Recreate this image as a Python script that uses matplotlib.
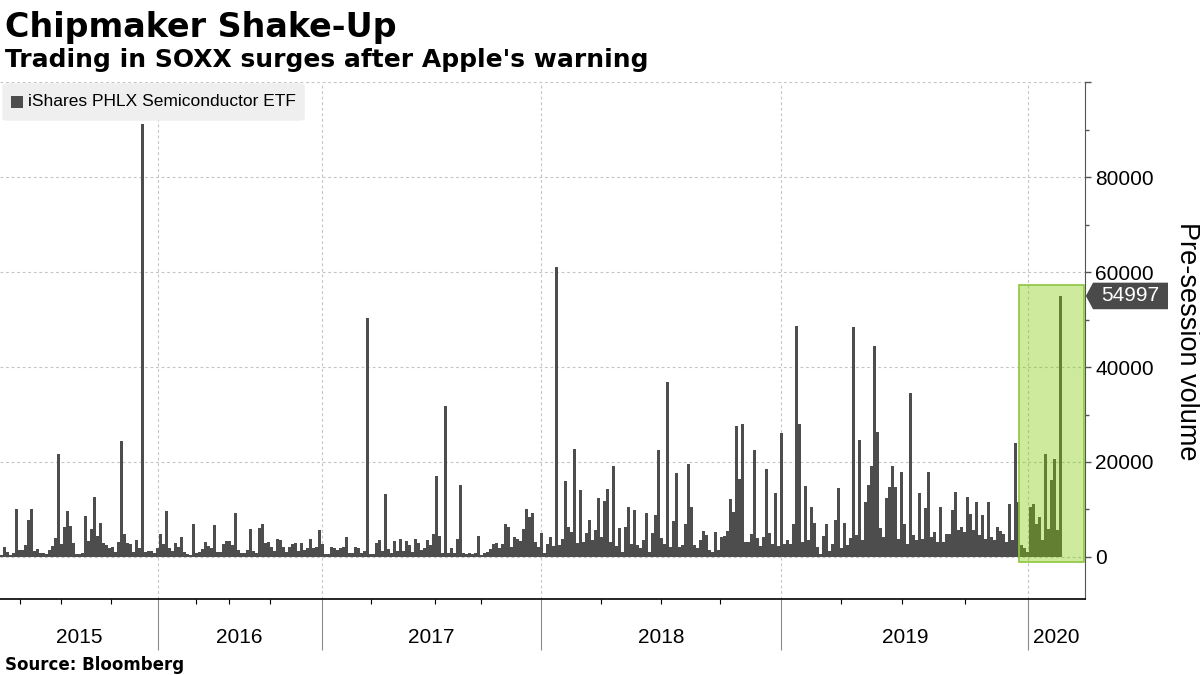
import numpy as np
import matplotlib.pyplot as plt
from matplotlib.patches import Rectangle, FancyBboxPatch, Polygon
from matplotlib.transforms import blended_transform_factory

# Pre-session volume of SOXX, in thousands of shares.
# One bar for every ~3 sessions, from early 2015 to Feb 2020.
volume_k = [
    0.3, 2.1, 1.0, 0.4, 0.7, 10.0, 1.4, 1.5, 2.5, 7.7,
    10.0, 1.2, 1.6, 0.9, 0.8, 0.6, 1.5, 2.2, 3.9, 21.6,
    2.8, 6.3, 9.6, 6.5, 3.0, 0.6, 0.5, 0.8, 8.6, 3.4,
    5.8, 12.6, 4.4, 7.2, 3.0, 2.4, 1.8, 2.1, 1.1, 3.2,
    24.4, 4.9, 2.9, 2.6, 1.0, 3.5, 1.8, 91.2, 1.0, 1.2,
    1.3, 0.9, 1.8, 4.8, 2.8, 9.6, 1.8, 1.2, 3.0, 2.1,
    # 2016
    4.2, 1.0, 0.5, 0.4, 6.9, 0.7, 1.1, 1.6, 3.2, 2.3,
    1.8, 6.7, 1.1, 1.0, 2.8, 3.3, 3.3, 2.5, 9.3, 1.4,
    0.8, 0.7, 1.4, 5.8, 1.3, 0.7, 6.0, 7.0, 3.0, 3.2,
    2.0, 1.2, 3.7, 3.6, 2.0, 1.0, 2.1, 2.6, 3.0, 1.2,
    3.0, 1.4, 1.8, 3.7, 1.8, 2.0, 5.6, 2.8, 0.5, 0.6,
    2.0, 1.9, 1.4, 1.8, 2.1, 4.1, 0.8, 0.7, 2.1, 1.8,
    # 2017
    0.9, 1.2, 50.3, 0.5, 0.5, 3.0, 3.5, 1.2, 13.2, 1.7,
    0.8, 3.3, 1.2, 3.7, 1.2, 3.3, 2.4, 1.0, 3.7, 3.0,
    1.4, 1.8, 3.5, 2.5, 4.7, 17.0, 4.4, 0.7, 31.8, 0.7,
    1.8, 0.7, 3.7, 15.1, 0.7, 0.5, 0.7, 0.6, 0.9, 4.4,
    0.4, 0.7, 1.0, 1.6, 2.7, 3.0, 1.8, 2.6, 6.9, 6.3,
    2.1, 4.1, 3.8, 3.4, 5.8, 10.0, 8.4, 9.3, 3.2, 2.1,
    # 2018
    5.0, 0.8, 2.8, 4.2, 2.3, 61.1, 2.5, 3.7, 16.0, 6.3,
    5.2, 22.7, 3.0, 14.0, 3.2, 5.1, 7.7, 3.5, 5.6, 12.4,
    4.2, 11.7, 14.3, 3.2, 19.1, 2.3, 6.0, 1.0, 6.3, 10.5,
    2.8, 9.8, 2.5, 1.8, 3.5, 9.3, 1.0, 5.1, 8.8, 22.5,
    3.9, 2.8, 36.8, 2.1, 7.6, 17.6, 2.1, 2.4, 7.0, 19.5,
    10.5, 2.5, 1.8, 3.5, 5.5, 4.6, 1.4, 1.1, 5.3, 1.4,
    4.2, 4.4, 5.4, 12.2, 9.5, 27.6, 16.5, 28.1, 3.2, 3.2,
    4.7, 22.5, 4.0, 2.2, 4.2, 18.6, 5.0, 2.7, 13.4, 2.3,
    # 2019
    26.0, 2.8, 3.5, 2.8, 7.0, 48.6, 28.1, 3.2, 14.9, 3.5,
    10.5, 7.2, 2.1, 0.5, 4.4, 7.0, 1.2, 2.8, 7.7, 14.4,
    1.8, 7.2, 2.4, 4.0, 48.4, 4.5, 24.7, 3.5, 11.6, 15.1,
    19.1, 44.4, 26.4, 6.0, 4.2, 12.3, 14.8, 19.1, 14.8, 3.8,
    17.8, 7.0, 2.8, 34.6, 4.6, 3.6, 13.4, 3.8, 10.2, 17.9,
    4.2, 5.3, 3.2, 10.5, 3.2, 4.9, 4.9, 9.8, 13.6, 5.6,
    6.3, 5.3, 12.6, 9.1, 5.6, 11.6, 4.6, 8.8, 3.8, 11.6,
    4.2, 3.5, 6.3, 5.5, 4.9, 3.2, 11.2, 3.5, 23.9, 11.6,
    # 2020
    2.5, 1.8, 1.0, 10.5, 11.1, 7.0, 8.4, 3.5, 21.6, 5.8,
    16.2, 20.7, 5.6, 54.997,
]
last_value = 54997

# Axis layout (in bar index units)
year_labels = ['2015', '2016', '2017', '2018', '2019', '2020']
year_starts = [52.6, 107.2, 180.5, 260.5, 342.8]
quarter_ticks = [6.6, 20.2, 37.1, 65.4, 76.3, 89.9, 123.7, 144.9, 160.5,
                 200.3, 220.4, 240.1, 280.5, 300.8, 321.8]
x_end = 361.67
highlight_start, highlight_end = 339.7, 361.4  # Apple warning window
highlight_top = 57400

bar_color = '#4d4d4d'
grid_kw = dict(color='#c4c4c4', linestyle=(0, (2.5, 2.5)), linewidth=0.8)
font = 'Liberation Sans'

volume = np.array(volume_k) * 1000
x = np.arange(len(volume)) + 0.5

fig = plt.figure(figsize=(12, 6.75), dpi=100)
ax = fig.add_axes([0, 0.11259, 0.90417, 0.76519])

ax.bar(x, volume, width=0.85, color=bar_color, linewidth=0, zorder=2)

ax.set_xlim(0, x_end)
ax.set_ylim(-8900, 100000)

# x axis: year separators and quarter ticks
ax.set_xticks(year_starts)
ax.set_xticks(quarter_ticks, minor=True)
ax.tick_params(axis='x', which='major', length=36.7, width=0.8, color='#8c8c8c',
               labelbottom=False)
ax.tick_params(axis='x', which='minor', length=3.8, width=0.8, color='black')
ax.xaxis.grid(True, which='major', **grid_kw)

bounds = [0] + year_starts + [x_end]
tr = blended_transform_factory(ax.transData, ax.transAxes)
for i, lab in enumerate(year_labels):
    ax.text((bounds[i] + bounds[i + 1]) / 2, -0.0755, lab, transform=tr,
            ha='center', va='center', fontsize=15, family=font)

# y axis on the right
ax.yaxis.tick_right()
yt = [0, 20000, 40000, 60000, 80000, 100000]
ax.set_yticks(yt)
ax.set_yticklabels([str(v) for v in yt[:-1]] + [''], family=font)
ax.set_yticks(np.arange(10000, 100000, 20000), minor=True)
ax.tick_params(axis='y', which='major', length=4.3, width=1, color='#555555',
               pad=3, labelsize=15)
ax.tick_params(axis='y', which='minor', length=3, width=1, color='#555555')
ax.yaxis.grid(True, which='major', **grid_kw)
ax.set_axisbelow(True)

ax.spines['left'].set_visible(False)
ax.spines['top'].set_visible(False)
ax.spines['right'].set_color('#555555')
ax.spines['bottom'].set_color('black')
ax.spines['bottom'].set_linewidth(1.2)

# highlight box
ax.add_patch(Rectangle((highlight_start, -1050), highlight_end - highlight_start,
                       highlight_top + 1050, facecolor=(0.51, 0.80, 0.04, 0.4),
                       edgecolor='#8dc63f', linewidth=1.2, zorder=3))

# last value tag
ty = blended_transform_factory(ax.transAxes, ax.transData)
h = 2800
ax.add_patch(Polygon([(1.0008, last_value), (1.0074, last_value + h), (1.0765, last_value + h),
                      (1.0765, last_value - h), (1.0074, last_value - h)],
                     closed=True, transform=ty, facecolor='#4a4a4a', edgecolor='none',
                     clip_on=False, zorder=5))
ax.text(1.042, last_value, str(last_value), transform=ty, ha='center', va='center',
        color='white', fontsize=15, family=font, zorder=6)

fig.text(1187 / 1200, 1 - 341 / 675, 'Pre-session volume', rotation=270,
         ha='center', va='center', fontsize=19.5, family=font)

# legend
ax.add_patch(FancyBboxPatch((0.002, 1 - 120.7 / 675), 0.252, 37.4 / 675,
                            boxstyle='round,pad=0,rounding_size=0.004',
                            transform=fig.transFigure, facecolor='#efefef',
                            edgecolor='none', clip_on=False, zorder=4))
ax.add_patch(Rectangle((11 / 1200, 1 - 108.3 / 675), 11.6 / 1200, 12.6 / 675,
                       transform=fig.transFigure, facecolor=bar_color,
                       edgecolor='none', clip_on=False, zorder=5))
fig.text(27.8 / 1200, 1 - 102 / 675, 'iShares PHLX Semiconductor ETF',
         ha='left', va='center', fontsize=12.5, family=font, zorder=6)

# titles
fig.text(5 / 1200, 1 - 37 / 675, 'Chipmaker Shake-Up', ha='left', va='baseline',
         fontsize=24, fontweight='bold', family='DejaVu Sans')
fig.text(5 / 1200, 1 - 66.5 / 675, "Trading in SOXX surges after Apple's warning",
         ha='left', va='baseline', fontsize=18, fontweight='bold', family='DejaVu Sans')
fig.text(5 / 1200, 1 - 670 / 675, 'Source: Bloomberg', ha='left', va='baseline',
         fontsize=12, fontweight='bold', family='DejaVu Sans')

fig.savefig('out.png', dpi=100)
